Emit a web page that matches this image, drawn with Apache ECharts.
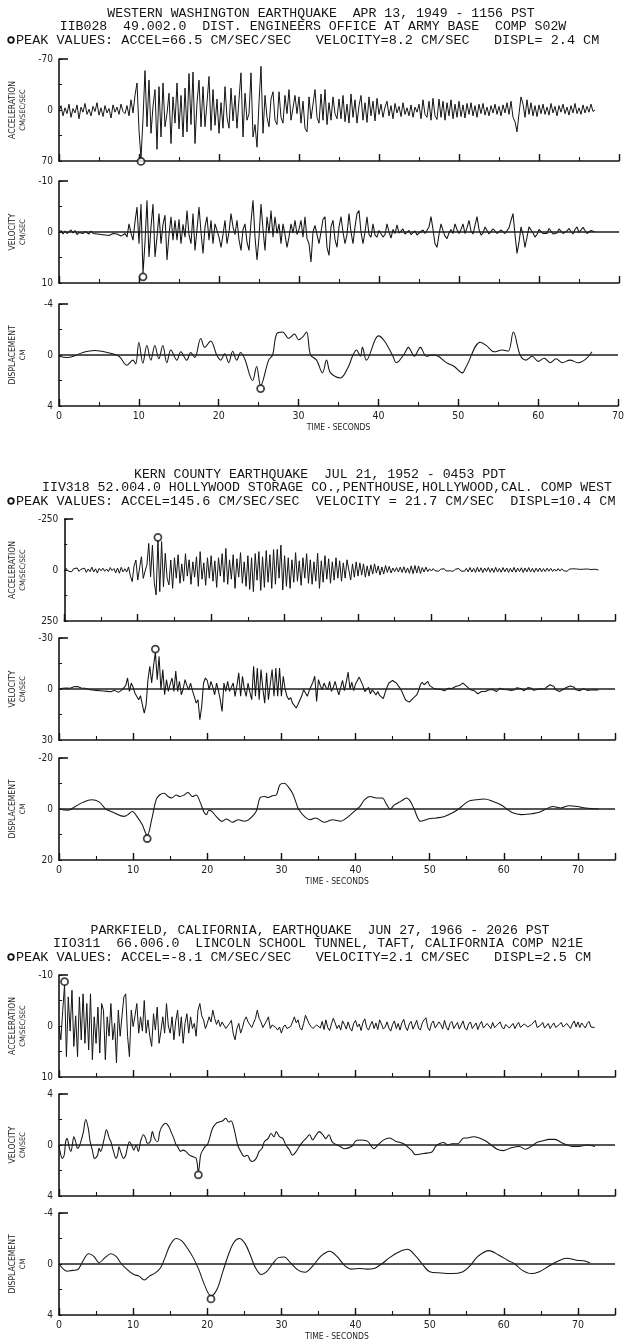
<!DOCTYPE html>
<html>
<head>
<meta charset="utf-8">
<title>Strong-motion records</title>
<script src="https://cdn.jsdelivr.net/npm/echarts@6/dist/echarts.min.js"></script>
<style>
  html, body { margin: 0; padding: 0; background: #fff; }
  #chart { width: 627px; height: 1344px; }
</style>
</head>
<body>
<div id="chart"></div>
<script>
// Sampling step of the acceleration / velocity records, in seconds
const SAMPLE_DT = 0.25;

// ---------- Western Washington, 1949 (IIB028) ----------
const waAccel = [
  2,-6,8,-3,5,-8,10,-2,4,-7,12,-4,3,-9,6,-1,8,-5,2,-10,
  7,-3,9,-6,4,-2,11,-7,3,-4,6,-8,2,5,-6,8,-14,4,-20,-37,
  28,66.5,12,-54,23,-41,32,-5,-28,54,-32,37,-37,23,5,-23,46,-18,18,-37,
  26,-20,37,-30,30,-50,20,-52,46,-10,-41,23,-32,23,-10,-46,28,-28,21,-15,
  32,-10,25,-32,10,25,-30,15,-20,25,-15,-51,37,-23,14,5,-51,37,20,51,
  -10,-60,32,-20,10,23,-15,-25,14,20,-25,10,18,-20,5,-28,14,14,-20,5,
  -18,18,-12,25,30,-18,12,14,-28,10,18,-22,14,-28,20,-10,14,-18,5,12,
  -15,12,-20,16,-8,18,-22,10,-14,18,-6,-20,14,-10,17,-18,8,-12,15,-16,
  6,-8,10,-4,-12,8,-6,12,-9,4,-5,9,-10,6,-3,8,-7,10,-4,3,
  -8,12,-14,6,10,-12,14,-16,8,13,-15,10,-12,14,-10,8,-14,12,-8,10,
  -12,9,-7,11,-9,6,-10,8,-6,10,-8,5,-9,7,-4,8,-6,4,-8,6,
  -5,8,-7,4,-10,6,-12,10,16,30,5,-18,-8,10,-14,6,-10,8,-6,9,
  -7,5,-8,6,-4,7,-9,4,-5,8,-6,3,-8,5,-4,7,-6,4,-9,5,
  -3,6,-7,4,-5,3,-8,2,0
];
const waVel = [
  0.2,-0.3,0.4,-0.2,0.3,0,-0.4,0.2,-0.3,0.5,0.1,-0.2,0.3,-0.1,0.2,0.4,-0.2,0.3,0.1,0.4,
  0.2,0.5,0.3,0.6,0.4,0.7,0.5,0.3,0.6,0.4,0.6,0.8,0.5,0.3,1.0,-1.6,0.2,1.6,-2.0,-4.9,
  2.3,-5.5,8.2,2,-6.2,4.9,-1,-5.5,4.9,1,-3.6,2.3,-1.5,-3.3,5.5,0.5,-3,1.6,-2.3,1.6,
  -2.5,2.3,-1.5,1,-4.2,0.5,2.3,-3.6,3.6,-0.5,-4.9,0,4.2,-1,-3,1.6,-2.3,2.3,-1.6,-1.7,
  1,3,0.5,-2.3,2.3,0,-3.6,-1,0.5,-2.3,1.5,3.6,-0.5,-1.6,2,3.6,-2,-6.2,1,5.5,
  1,-5.5,-0.5,3.6,-3,0.3,-4.2,1,-3,0.3,-1.6,2.3,-1.6,0.5,3,1,-1.6,0.2,-2.3,0.5,
  -0.5,-2.3,1,-3,1.3,2.3,5.9,0,-1.3,-1.6,2.3,0,-2.5,-3,3,4.6,-1,-2.3,1.5,3,
  -1,-3,0,2.3,0.5,-3.6,0,2.3,-1,-3.6,-4.2,0,2.3,0,-3,0.5,1,-1.6,0.6,1,
  -0.3,-0.5,1,0.5,-1.6,0,1.2,-0.5,0.3,-1.4,0.2,0.5,-0.6,0.4,0.2,-0.3,0.5,0.3,-0.2,0.6,
  0.2,0.5,-0.4,0.3,0.6,-1,-3,-0.5,2.3,3,0.5,-1.6,-0.3,0.8,1.3,0.2,-0.5,0.3,-1.6,-0.5,
  0.3,-0.5,-1.6,0.3,-0.8,-2.3,-0.2,0.4,0.3,-3,-0.5,0.6,0.2,-1,-0.3,0.4,0.3,-0.6,-0.2,0.3,
  0.1,-0.4,-0.1,0.3,0.2,-0.8,-2.3,-3.6,0.5,4.2,2,-1,0.5,3,1,-1,-1.3,0.2,1,0.5,
  -0.5,-0.8,0.3,0.6,0.3,-0.7,-0.5,0.4,0.6,0.2,-0.6,-0.4,0.3,0.5,-0.2,-0.7,-0.1,0.4,-0.5,-1,
  0.1,0.4,-0.9,-0.3,0.3,0.2,-0.3,-0.2,0
];
// [time s, displacement cm]
const waDisp = [
  [0,0.1],[1,0.2],[2,0.05],[3,-0.2],[4.5,-0.35],[6,-0.2],[7.5,0.1],[8.5,0.8],[9.25,0.4],[9.6,0.7],
  [10,-1.0],[10.5,0.65],[11,-0.75],[11.5,0.4],[12,-0.75],[12.5,0.3],[13,-0.75],[13.5,0.6],[14,-0.4],
  [14.75,0.4],[15.25,-0.25],[16,0.4],[16.5,-0.2],[17,0.2],[17.75,-1.3],[18.25,-0.6],[19,-1.1],
  [19.75,0],[20.25,0.4],[20.75,-0.1],[21.25,0.6],[21.75,-0.3],[22.25,0.4],[22.75,-0.2],[23.25,0.3],
  [24.25,2.0],[24.75,0.9],[25.25,2.4],[26.25,0.4],[26.75,0],[27.25,-1.65],[28,-1.8],[28.75,-1.3],
  [29.5,-1.65],[30,-1.2],[30.5,-1.4],[31,-1.8],[31.5,0],[32.25,0.4],[33,1.4],[33.5,0.4],[34,1.4],
  [35.25,1.8],[36.25,0.9],[36.75,0.1],[37.25,-0.4],[37.75,0.1],[38,-0.6],[38.5,0.4],[40,-1.5],
  [40.75,-1.1],[41.75,0],[42.25,0.6],[43.25,-0.1],[43.75,-0.6],[44.5,0.1],[45.25,-0.6],[46,0.1],
  [46.75,0],[47.5,0.1],[48.5,0.6],[49.5,0.9],[50.5,1.4],[51,0.9],[52.75,-1.0],[53.5,-0.75],
  [54.5,-0.25],[55.5,-0.4],[56.25,-0.3],[56.9,-1.8],[57.75,0],[58.5,0.4],[59.25,0.1],[60,0.5],
  [60.75,0.25],[61.5,0.6],[62.25,0.3],[63,0.6],[64,0.4],[65,0.6],[66,0.3],[66.75,-0.25]
];
const waRanges = [70, 10, 4];
const waPeakTimes = [10.25, 10.5, 25.25];
const waPeakValues = [66.5, 8.2, 2.4];

// ---------- Kern County, 1952 (IIV318) ----------
const kcAccel = [
  3,-8,5,-4,9,-6,2,-10,7,-3,4,-9,12,-5,8,-14,10,-6,15,-8,
  4,-9,6,-5,8,-12,3,-7,14,-10,16,-13,9,-6,10,-15,30,57,-20,-49,
  49,-10,-65,41,5,-25,-130,33,-122,60,122,-145.6,106,-139,82,-82,40,73,-49,90,
  -60,40,-75,65,-30,55,-80,30,-50,70,-40,35,-65,80,-90,45,-35,75,-60,40,
  -70,55,-45,85,-60,30,-80,60,-106,70,-50,45,-75,90,-55,35,-85,65,-40,80,
  -70,95,-60,106,-80,50,-90,100,-65,85,-95,60,-75,90,-100,70,-101,40,-122,98,
  -70,80,-60,90,-50,60,-85,55,-45,75,-60,40,-80,65,-50,70,-40,55,-82,90,
  -45,60,-70,45,-55,65,-40,50,-60,40,-45,55,-35,40,-50,-57,49,-30,35,-40,
  30,-35,25,-30,35,-20,30,-25,20,-30,15,-20,25,-15,20,-22,12,-18,15,-10,
  8,-12,10,-14,12,-16,14,-10,16,-20,18,-22,15,-20,17,-12,10,-14,8,-6,
  5,-7,4,-5,6,-4,3,-6,5,-3,4,-5,6,-4,3,-7,5,-4,6,-8,
  9,-12,10,-8,12,-13,9,-11,13,-10,8,-12,11,-9,12,-13,10,-8,11,-12,
  9,-10,12,-8,10,-13,11,-9,8,-11,12,-10,9,-12,10,-8,11,-9,8,-10,
  9,-7,8,-9,6,-8,7,-5,6,-7,5,-6,4,-5,6,-4,5,-6,3,-5,
  4,-3,5,-4,3,-5,4,-2,3,-4,2,0
];
const kcVel = [
  0,-0.3,-0.5,-0.2,-0.6,-0.8,-0.5,-1.0,-1.3,-0.8,-1.5,-1.0,-0.6,-1.2,-0.4,-0.2,0.3,0.1,0.6,0.4,
  0.8,0.5,1.0,0.7,1.2,0.9,1.4,1.0,1.6,1.2,0.8,1.5,2.0,1.2,0.5,1.0,-2,-6.5,1.4,-3.5,
  -1,2.5,3.4,6.3,4,9.3,14.2,9.3,-5.5,-13.4,-3.5,-13.4,-21.7,-5.5,-19.3,0.4,-11.4,3.4,-5.5,1.4,
  -3,-6.5,1.4,-10.5,1.4,-4.5,3.4,0,-5.5,-2,0.4,-3.5,1,4.3,8.3,6.3,18.1,10.3,-3.5,-6.5,
  -5,0.4,-4.5,-1,3.4,-3.5,1,6.3,13.2,-3.5,1.4,-4.5,1.4,-1,-3.5,4.3,-2,-9.5,4.3,-7.5,
  0,4.3,-3.5,2,6.3,-13.4,4.3,-12.4,6.3,-11.4,0,8.3,-9.5,6.3,-3,-11.4,4.3,-12.4,4.3,-12.4,
  4.3,-7.5,0,4.3,6.3,5,8.3,9,11.2,9,8.3,4,0.4,1.4,4.3,1,-1.6,-4,-7.5,7.3,
  -5.5,-2,0.4,-3.5,-1,0.4,-4.5,1.4,-1,-4.5,0,3.4,-1,-5,1,-4,-10,0,-4,1,
  -3,-5,-7,-6,-2,1.5,2.5,-1,2.8,0.5,1.8,3.5,1.5,3.8,4.8,5.7,2,-1,-3.5,-4.5,
  -5,-4,-3.5,-2,-0.5,1.5,4,6.5,7.5,7.7,7,5.5,5.5,3.5,1,-2.5,-4,-2.5,-3.5,-4.5,
  -2,-1,-0.5,0.5,0,-0.8,0.3,0.8,1,0.5,-0.5,-1,-0.3,-0.8,-1.5,-2.5,-2,-3,-3.5,-2.5,
  -1.5,-0.5,0.5,1.5,1,2,2.8,2.2,1.5,2.5,1.5,1.8,0.5,-0.5,0.3,1.2,1.5,0.5,-0.5,-1,
  0.3,1,0.5,-0.5,0.8,1.2,0.4,-0.8,-1.2,-0.3,0.6,1,0.2,-0.8,-1.4,-0.5,0.8,1,0.3,-0.6,
  -0.2,0.8,0.2,-1,-2,-2.5,-3,-1.5,0.5,1,1.5,1.2,0.3,-0.5,-1,-1.5,-1.8,-2,-1,0.5,
  1.2,1,0.4,-0.2,0.2,0.8,1,0.6,0.2,0.5,0.8,0.5
];
const kcDisp = [
  [0,0],[1.2,0.5],[2.2,-1],[3.2,-2.6],[4.4,-3.6],[5.4,-2.8],[6.3,0],[7.3,1.3],[8.8,2.9],[9.3,2.2],
  [9.9,1],[10.5,2.9],[11.2,6],[11.9,10.4],[12.5,4.2],[13.1,-3.6],[13.6,-5.6],[14.2,-6.2],[14.7,-4.9],
  [15.2,-4.3],[15.8,-5.5],[16.3,-4.9],[16.9,-5.5],[17.4,-6.5],[18,-4.9],[18.5,-5.5],[19,-3],
  [19.6,1.5],[19.9,2.2],[20.2,0.5],[20.6,0.9],[21.2,2.9],[22,4.8],[22.6,3.9],[23.4,5.2],[24.2,4.2],
  [25,4.8],[25.6,4.2],[26.6,0.9],[27.1,-4.3],[27.7,-4.9],[28.2,-4.5],[28.8,-5.2],[29.3,-5.5],
  [29.8,-9.5],[30.4,-10.1],[30.9,-8.8],[31.5,-6.2],[32,-2.3],[32.3,0],[33.1,2.9],[33.9,4.2],
  [34.6,3.5],[35.8,5.2],[36.9,4.2],[38,4.8],[38.8,3.5],[39.6,1.5],[40.6,-1],[41.2,-3.6],[42,-4.9],
  [42.8,-4.3],[43.6,-4.3],[44.2,-1.7],[44.7,0],[45.2,-1.5],[46.1,-3],[46.9,-4.3],[47.4,-3],
  [47.9,0],[48.8,4.8],[49.8,3.9],[50.9,3.5],[52,2.9],[53.1,1.5],[53.9,0],[55.2,-3],[56.3,-3.6],
  [57.4,-3.9],[58.5,-3],[59.6,-1.7],[60.4,0],[61.2,1.5],[62.3,2.2],[63.4,2],[64.5,1.5],[65.5,0.3],
  [66.6,-1],[67.7,-0.4],[68.8,-1.3],[69.9,-1],[71,-0.4],[72.8,0]
];
const kcRanges = [250, 30, 20];
const kcPeakTimes = [12.75, 13.0, 11.9];
const kcPeakValues = [-145.6, -21.7, 10.4];

// ---------- Parkfield, 1966 (IIO311) ----------
const pkAccel = [
  0,2.7,-3,-8.1,6,-5.7,1,-7,4,-2,6,-5.7,2.7,-6.3,3.4,-4.4,4.7,-6.3,6.6,-1.8,
  3.4,-3.7,5.3,-4.4,-3.1,6.6,-1.8,2,-4.4,2.7,-0.5,7.2,-3.1,2,-2,-5.7,-6.3,2,6,-3.1,
  0.1,-2,-4.4,1.4,-1.8,1,-5,1.4,-1.2,2,4,-2.4,0.8,-3.7,3.4,1,-1.8,1.4,-4.4,0,
  1.4,-1.8,2.7,-1,-3.1,2,-1.8,3.4,-0.5,-2.4,1.4,-1.8,0.5,-0.5,2,-3.1,-4.4,-2,-1.2,0.5,
  -0.5,-1.8,-0.8,-3.1,-1.5,-0.3,-1.2,0.1,-0.8,-1.1,0.5,0.8,-0.5,-1.1,1.5,2.7,0.5,-0.5,1.4,0.3,
  -1.1,-1.8,-0.8,-0.5,0.3,0.1,-1.5,-3.1,-1.5,-0.8,0.3,0.1,-1,-1.8,0.5,-0.2,-0.5,0.3,0.8,0.2,
  1.4,0.2,-0.2,0.5,0.8,0.1,-0.8,-1.8,-0.6,-1.2,0.3,0.8,-0.5,-2.1,-1.8,-0.4,0.1,0.5,0.8,-0.2,
  -0.5,0.4,-0.9,0.7,-1.2,0.3,0.9,-0.4,-1.5,-0.6,0.5,-0.2,0.8,-1.0,-0.3,0.6,-0.8,0.4,1.0,-0.5,
  -1.1,0.2,-0.4,0.9,-0.7,-1.4,0.3,0.8,-0.2,-0.9,0.5,-0.6,0.7,-1.2,-0.4,0.6,0.2,-0.8,0.4,1.0,
  -0.3,-1.0,0.5,-0.5,0.8,-0.6,-1.3,0.2,0.9,-0.4,-0.9,0.6,-0.2,-1.1,0.4,0.8,-0.6,-1.2,-1.6,0.3,
  0.9,-0.5,-1.0,0.4,0.7,-0.8,-0.3,0.6,-1.1,0.2,0.8,-0.5,-0.9,0.5,0.3,-0.7,0.6,-0.2,-1.0,0.4,
  0.8,-0.4,-0.8,0.5,0.2,-0.6,0.7,-0.3,-0.9,0.4,0.6,-0.5,-0.2,0.5,-0.7,0.3,0.6,-0.4,-0.8,0.2,
  0.6,-0.3,-0.6,0.4,0.1,-0.5,0.5,-0.2,-0.7,0.3,0.5,-0.4,-0.6,0.2,0.4,-0.3,-0.5,-1.1,0.3,0.6,
  -0.2,-0.7,0.4,0.2,-0.5,0.5,-0.1,-0.6,0.3,0.6,-0.3,-0.7,0.2,0.4,-0.5,-0.2,0.5,-0.4,-1.0,0.2,
  -0.8,0.3,-0.6,-0.1,0.4,-0.5,-0.9,0.2,0.4,0.3
];
// [time s, velocity cm/s]
const pkVel = [
  [0,0],[0.1,0.4],[0.45,1.05],[0.7,0.8],[0.9,-0.26],[1.1,-0.5],[1.35,0.13],[1.6,0.5],[1.8,0],
  [2.0,-0.65],[2.25,-0.26],[2.5,0.26],[2.7,0.13],[2.95,-0.26],[3.3,-1.05],[3.6,-2.0],[3.95,-1.3],
  [4.2,-0.26],[4.5,0.4],[4.8,1.05],[5.2,0.8],[5.4,0.26],[5.6,0.5],[6.1,-0.5],[6.4,-1.2],[6.8,-0.5],
  [7.0,-0.26],[7.35,0.5],[7.7,1.05],[7.9,0.8],[8.1,0.13],[8.3,0.5],[8.7,1.05],[9.0,0.8],[9.2,0.26],
  [9.5,-0.26],[9.8,0],[10.1,0.4],[10.4,0],[10.7,0.5],[11.0,-0.26],[11.4,-0.8],[11.7,-0.5],
  [11.9,-0.13],[12.3,-0.26],[12.6,-1.05],[12.9,-0.5],[13.3,-0.26],[13.6,-1.05],[13.9,-1.45],
  [14.4,-1.7],[14.8,-1.45],[15.1,-1.05],[15.5,-0.5],[15.8,0],[16.0,0.13],[16.4,0.5],[16.7,0.4],
  [17.1,0.5],[17.6,0.8],[18.0,0.9],[18.5,1.05],[18.8,2.1],[19.1,0.8],[19.3,0.5],[19.7,0.13],
  [20.0,0],[20.3,-0.5],[20.7,-1.3],[21.2,-1.7],[21.6,-1.8],[22.1,-1.9],[22.5,-2.1],[22.9,-1.8],
  [23.2,-1.9],[23.6,-1.3],[24.1,0],[24.5,0.5],[25,0.9],[25.4,0.8],[25.8,1.2],[26.1,1.3],[26.6,1.05],
  [27,0.5],[27.4,0.26],[27.7,-0.26],[28.2,-0.5],[28.6,-0.9],[29,-0.65],[29.3,-1.05],[29.75,-0.65],
  [30.2,-0.5],[30.6,0],[31.1,0.4],[31.5,0.8],[32,0.5],[32.4,0.13],[32.9,-0.26],[33.3,-0.5],
  [33.8,-0.8],[34.2,-0.4],[34.7,-0.8],[35.1,-1.05],[35.6,-0.8],[36,-0.5],[36.4,-0.8],[36.9,-0.2],
  [37.9,0.1],[38.5,0.3],[39.5,0.1],[40,-0.3],[40.6,-0.4],[41.6,-0.3],[42.5,0.3],[43,0],[43.8,-0.4],
  [44.6,-0.55],[45.4,-0.3],[46.5,-0.1],[47.6,0.45],[48.1,0.77],[49.2,0.66],[50.3,0.55],[50.8,0.1],
  [51.3,-0.1],[51.9,-0.2],[52.4,0],[53,-0.1],[53.8,-0.1],[54.6,-0.55],[55.1,-0.55],[55.9,-0.65],
  [56.7,-0.55],[57.5,-0.33],[58.3,0],[59.1,0.33],[59.9,0.44],[61,0.22],[62.1,0.11],[62.9,0.33],
  [63.7,0.11],[64.5,-0.22],[65.3,-0.33],[66.1,-0.44],[66.9,-0.44],[67.7,-0.22],[68.5,0],
  [69.3,0.11],[70.1,0.11],[71.2,0],[72.3,0.11]
];
const pkDisp = [
  [0,0],[0.6,0.4],[1.1,0.57],[1.8,0.5],[2.5,0.45],[3.2,-0.2],[4,-0.8],[4.7,-0.6],[5.4,-0.1],
  [6.2,-0.5],[7,-0.8],[7.7,-0.6],[8.3,-0.1],[9.2,0.44],[10.1,0.83],[10.8,0.95],[11.5,1.25],
  [12.2,0.95],[13,0.7],[13.7,0.3],[14.3,-0.5],[15,-1.5],[15.8,-2.0],[16.6,-1.8],[17.3,-1.25],
  [18.1,-0.5],[18.9,0.5],[19.6,1.6],[20.5,2.5],[21.3,2.0],[22.1,0.6],[22.9,-0.8],[23.6,-1.7],
  [24.3,-2.0],[25.1,-1.6],[25.8,-0.7],[26.5,0.3],[27.3,0.83],[28,0.6],[28.8,0],[29.6,-0.5],
  [30.4,-0.55],[31.2,-0.1],[32.3,0.5],[33.2,0.65],[34.3,0.1],[35.3,-0.6],[36.5,-1.0],[37.5,-0.6],
  [38.5,0.1],[39.5,0.4],[40.6,0.35],[41.5,0.4],[42.5,0.35],[43.5,0],[44.6,-0.5],[45.7,-0.9],
  [47,-1.15],[48,-0.7],[49,0],[50,0.6],[51.5,0.7],[53,0.75],[54.5,0.6],[55.5,0.1],[56.5,-0.6],
  [58,-1.05],[59.3,-0.7],[60.5,-0.3],[61.5,0],[62.5,0.5],[63.7,0.75],[64.8,0.6],[66,0.2],
  [67.2,-0.2],[68.5,-0.45],[69.8,-0.3],[70.8,-0.25],[71.6,-0.1]
];
const pkRanges = [10, 4, 4];
const pkPeakTimes = [0.75, 18.8, 20.5];
const pkPeakValues = [-8.1, 2.1, 2.5];

// Panel captions (quantity, unit) and header texts
const panelNames = [['ACCELERATION', 'CM/SEC/SEC'], ['VELOCITY', 'CM/SEC'], ['DISPLACEMENT', 'CM']];
const waHeader = [
  'WESTERN WASHINGTON EARTHQUAKE  APR 13, 1949 - 1156 PST',
  'IIB028  49.002.0  DIST. ENGINEERS OFFICE AT ARMY BASE  COMP S02W',
  'PEAK VALUES: ACCEL=66.5 CM/SEC/SEC   VELOCITY=8.2 CM/SEC   DISPL= 2.4 CM'
];
const kcHeader = [
  'KERN COUNTY EARTHQUAKE  JUL 21, 1952 - 0453 PDT',
  'IIV318 52.004.0 HOLLYWOOD STORAGE CO.,PENTHOUSE,HOLLYWOOD,CAL. COMP WEST',
  'PEAK VALUES: ACCEL=145.6 CM/SEC/SEC  VELOCITY = 21.7 CM/SEC  DISPL=10.4 CM'
];
const pkHeader = [
  'PARKFIELD, CALIFORNIA, EARTHQUAKE  JUN 27, 1966 - 2026 PST',
  'IIO311  66.006.0  LINCOLN SCHOOL TUNNEL, TAFT, CALIFORNIA COMP N21E',
  'PEAK VALUES: ACCEL=-8.1 CM/SEC/SEC   VELOCITY=2.1 CM/SEC   DISPL=2.5 CM'
];
const timeAxisName = 'TIME - SECONDS';

// ---------- layout ----------
const FONT_MONO = '"Liberation Mono", "DejaVu Sans Mono", monospace';
const FONT_SANS = '"Liberation Sans Narrow", "DejaVu Sans Condensed", "Liberation Sans", "DejaVu Sans", sans-serif';
const INK = '#141414';

const toSeries = arr => arr.map((v, i) => [i * SAMPLE_DT, v]);

const records = [
  { header: waHeader, headerY: [14, 27, 40], headerX: [321, 313], xMax: 70, width: 562,
    tops: [59, 181, 304], ranges: waRanges,
    traces: [toSeries(waAccel), toSeries(waVel), waDisp], smooth: [false, false, 0.35],
    peakT: waPeakTimes, peakV: waPeakValues, topText: [null, null, null] },
  { header: kcHeader, headerY: [475, 488, 501], headerX: [320, 327], xMax: 75, width: 558,
    tops: [519, 638, 758], ranges: kcRanges,
    traces: [toSeries(kcAccel), toSeries(kcVel), kcDisp], smooth: [false, false, 0.35],
    peakT: kcPeakTimes, peakV: kcPeakValues, topText: [null, null, null] },
  { header: pkHeader, headerY: [931, 944, 957], headerX: [320, 318], xMax: 75, width: 558,
    tops: [975, 1094, 1213], ranges: pkRanges,
    traces: [toSeries(pkAccel), pkVel, pkDisp], smooth: [false, 0.35, 0.35],
    peakT: pkPeakTimes, peakV: pkPeakValues, topText: [null, '4', null] }
];
const PANEL_H = 102;
const PLOT_LEFT = 57;

const grids = [], xAxes = [], yAxes = [], series = [], graphics = [];

records.forEach((rec, r) => {
  // header lines
  graphics.push({ type: 'text', x: rec.headerX[0], y: rec.headerY[0],
    style: { text: rec.header[0], fontFamily: FONT_MONO, fontSize: 13.2, fill: INK, align: 'center', verticalAlign: 'middle' } });
  graphics.push({ type: 'text', x: rec.headerX[1], y: rec.headerY[1],
    style: { text: rec.header[1], fontFamily: FONT_MONO, fontSize: 13.2, fill: INK, align: 'center', verticalAlign: 'middle' } });
  graphics.push({ type: 'circle', shape: { cx: 11, cy: rec.headerY[2], r: 2.8 },
    style: { fill: '#fff', stroke: INK, lineWidth: 1.8 } });
  graphics.push({ type: 'text', x: 16, y: rec.headerY[2],
    style: { text: rec.header[2], fontFamily: FONT_MONO, fontSize: 13.5, fill: INK, align: 'left', verticalAlign: 'middle' } });

  for (let p = 0; p < 3; p++) {
    const k = r * 3 + p;
    const range = rec.ranges[p];
    const isBottom = p === 2;
    grids.push({ left: PLOT_LEFT, top: rec.tops[p], width: rec.width, height: PANEL_H, containLabel: false });

    // main time axis: 10 s ticks and labels
    xAxes.push({
      gridIndex: k, type: 'value', min: 0, max: rec.xMax, interval: 10, position: 'bottom',
      axisLine: { show: true, onZero: false, lineStyle: { color: INK, width: 1.6 } },
      axisTick: { show: true, inside: true, length: 7, lineStyle: { color: INK, width: 1.4 } },
      axisLabel: { show: isBottom, margin: 5, fontSize: 10.5, fontFamily: FONT_SANS, color: '#222',
        formatter: v => (v % 10 === 0 && v <= 70) ? String(v) : '' },
      splitLine: { show: false },
      name: isBottom ? timeAxisName : '', nameLocation: 'middle', nameGap: 17,
      nameTextStyle: { fontSize: 8.5, fontFamily: FONT_SANS, color: '#222' }
    });
    // secondary time axis: 5 s ticks
    xAxes.push({
      gridIndex: k, type: 'value', min: 0, max: rec.xMax, interval: 5, position: 'bottom',
      axisLine: { show: false, onZero: false },
      axisTick: { show: true, inside: true, length: 4, lineStyle: { color: INK, width: 1.1 } },
      axisLabel: { show: false }, splitLine: { show: false }
    });

    const topText = rec.topText[p];
    yAxes.push({
      gridIndex: k, type: 'value', min: -range, max: range, interval: range / 2, inverse: true,
      axisLine: { show: true, onZero: false, lineStyle: { color: INK, width: 1.6 } },
      axisTick: { show: true, inside: true, length: 3, lineStyle: { color: INK, width: 1 } },
      axisLabel: { margin: 6, fontSize: 10, fontFamily: FONT_SANS, color: '#222',
        formatter: v => {
          if (v === -range) return topText != null ? topText : String(v);
          if (v === 0 || v === range) return String(v);
          return '';
        } },
      splitLine: { show: false },
      name: '{a|' + panelNames[p][0] + '}\n{b|' + panelNames[p][1] + '}',
      nameLocation: 'middle', nameRotate: 90, nameGap: 31,
      nameTextStyle: { rich: {
        a: { fontSize: 8.5, fontFamily: FONT_SANS, color: '#222', lineHeight: 11, align: 'center' },
        b: { fontSize: 7.5, fontFamily: FONT_SANS, color: '#222', lineHeight: 10, align: 'center' }
      } }
    });

    const marks = [
      // short top bar of the panel frame
      [{ coord: [0, -range] }, { coord: [rec.xMax * 0.016, -range] }]
    ];
    if (p > 0) marks.push({ yAxis: 0, lineStyle: { color: '#1e1e1e', width: 1.5 } });

    series.push({
      type: 'line', xAxisIndex: 2 * k, yAxisIndex: k, data: rec.traces[p],
      showSymbol: false, symbol: 'none', smooth: rec.smooth[p], silent: true, animation: false,
      lineStyle: { color: INK, width: p === 0 ? 1 : 1.05 },
      markLine: { symbol: ['none', 'none'], silent: true, animation: false, label: { show: false },
        lineStyle: { color: INK, width: 1.6, type: 'solid' }, data: marks },
      z: 3
    });
    const pv = rec.peakV[p];
    series.push({
      type: 'scatter', xAxisIndex: 2 * k, yAxisIndex: k, data: [[rec.peakT[p], pv]],
      symbol: 'circle', symbolSize: 7, symbolOffset: [0, pv > 0 ? 3 : -3], silent: true, animation: false,
      itemStyle: { color: '#fff', borderColor: INK, borderWidth: 1.8 }, z: 5
    });
  }
});

const chart = echarts.init(document.getElementById('chart'), null, { renderer: 'canvas' });
chart.setOption({
  animation: false,
  backgroundColor: '#fff',
  grid: grids,
  xAxis: xAxes,
  yAxis: yAxes,
  series: series,
  graphic: graphics
});
</script>
</body>
</html>
